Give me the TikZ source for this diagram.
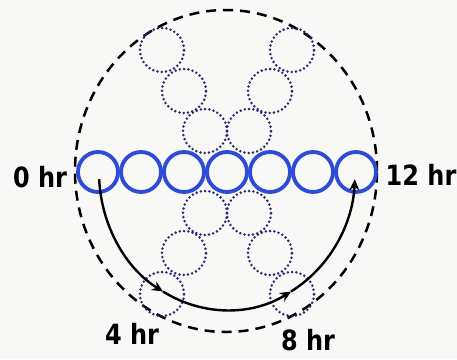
\documentclass[tikz,border=0pt]{standalone}
\usepackage{fontspec}
\setmainfont{DejaVu Sans}
\newfontfamily\handfont[FakeStretch=0.86]{DejaVu Sans}
\usetikzlibrary{arrows.meta,calc}
\definecolor{ringblue}{RGB}{45,75,215}
\definecolor{dotnavy}{RGB}{40,40,115}
\definecolor{paper}{RGB}{248,248,246}

\begin{document}
\begin{tikzpicture}[
    x=1bp, y=1bp,
    ring/.style={circle, draw=ringblue, line width=3.8bp, minimum size=40bp, inner sep=0pt},
    ghost/.style={circle, draw=dotnavy, line width=2.8bp, dash pattern=on 0pt off 4.3bp, line cap=round, minimum size=44bp, inner sep=0pt},
    arr/.style={-{Stealth[length=11bp, width=10bp]}, line width=2.4bp, black},
    hour/.style={font=\handfont\fontsize{28}{30}\selectfont\bfseries}
]
    % Page
    \fill[paper] (0,0) rectangle (457,359);
    \useasboundingbox (0,0) rectangle (457,359);

    % Outer dashed boundary
    \draw[line width=2.5bp, dash pattern=on 10bp off 7bp] (226,188) ellipse [x radius=151, y radius=161];

    % Dotted chain, upper left to lower right (4 hr / 8 hr positions)
    \node[ghost] (a1) at (162,309) {};
    \node[ghost] (a2) at (184,268) {};
    \node[ghost] (a3) at (205,228) {};
    \node[ghost] (a4) at (249,146) {};
    \node[ghost] (a5) at (270,106) {};
    \node[ghost] (a6) at (292,65) {};

    % Dotted chain, upper right to lower left
    \node[ghost] (b1) at (292,309) {};
    \node[ghost] (b2) at (270,268) {};
    \node[ghost] (b3) at (249,228) {};
    \node[ghost] (b4) at (205,146) {};
    \node[ghost] (b5) at (184,106) {};
    \node[ghost] (b6) at (162,65) {};

    % Blue chain at 0 hr
    \node[ring] (h0) at (98,187) {};
    \node[ring] (h1) at (141,187) {};
    \node[ring] (h2) at (184,187) {};
    \node[ring] (h3) at (227,187) {};
    \node[ring] (h4) at (270,187) {};
    \node[ring] (h5) at (313,187) {};
    \node[ring] (h6) at (356,187) {};

    % Sweep of the chain end, 0 hr -> 12 hr
    \coordinate (p0) at ($(h3.center)+(183:128 and 138)$);
    \draw[arr] (p0) arc [start angle=183, end angle=240, x radius=128, y radius=138] coordinate (p4);
    \draw[arr] (p4) arc [start angle=240, end angle=300, x radius=128, y radius=138] coordinate (p8);
    \draw[arr] (p8) arc [start angle=300, end angle=357, x radius=128, y radius=138] coordinate (p12);

    % Time labels
    \node[hour] (t0) at (40,182) {0 hr};
    \node[hour] (t12) at (421,184) {12 hr};
    \node[hour] (t4) at (132,25) {4 hr};
    \node[hour] (t8) at (308,19) {8 hr};
\end{tikzpicture}
\end{document}
